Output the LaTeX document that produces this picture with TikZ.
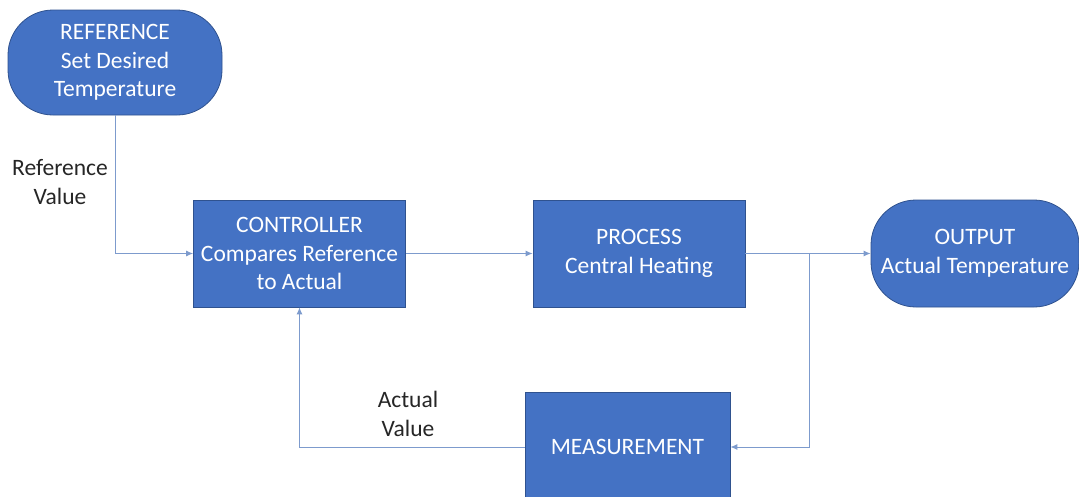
\documentclass[tikz,border=0pt]{standalone}
\usepackage{fontspec}
\setmainfont{Carlito}
\usetikzlibrary{arrows.meta}
\definecolor{boxfill}{RGB}{68,114,196}
\definecolor{boxedge}{RGB}{47,82,143}
\definecolor{linec}{RGB}{125,155,205}
\begin{document}
\begin{tikzpicture}[x=1pt,y=-1pt,
 blk/.style={draw=boxedge, line width=0.8pt, fill=boxfill, text=white, align=center, font=\fontsize{23.5}{28.5}\selectfont, minimum width=212pt, minimum height=107pt, inner sep=0pt},
 term/.style={blk, rounded corners=45pt},
 lbl/.style={align=center, font=\fontsize{23.5}{28.5}\selectfont, text=black!85, inner sep=0pt},
 conn/.style={draw=linec, line width=0.9pt},
 arr/.style={conn, -{Latex[length=7pt,width=6pt]}}]
\clip (0,0) rectangle (1079,496);
\fill[white] (0,0) rectangle (1079,496);
\node[term, minimum width=214pt, minimum height=105pt] (ref) at (115,62.5) {REFERENCE\\Set Desired\\Temperature};
\node[blk] (ctrl) at (299.5,253.5) {CONTROLLER\\Compares Reference\\to Actual};
\node[blk] (proc) at (639,253.5) {PROCESS\\Central Heating};
\node[term, minimum width=208pt] (out) at (975,253.5) {OUTPUT\\Actual Temperature};
\node[blk, minimum width=205pt, minimum height=110pt] (meas) at (627.5,447) {MEASUREMENT};
\coordinate (j) at (809,253.5);
\draw[arr] (ref.south) |- (ctrl.west);
\draw[arr] (ctrl.east) -- (proc.west);
\draw[arr] (proc.east) -- (out.west);
\draw[arr] (j) |- (meas.east);
\draw[arr] (meas.west) -| (ctrl.south);
\node[lbl] (rv) at (60,182) {Reference\\Value};
\node[lbl] (av) at (408,414) {Actual\\Value};
\end{tikzpicture}
\end{document}
